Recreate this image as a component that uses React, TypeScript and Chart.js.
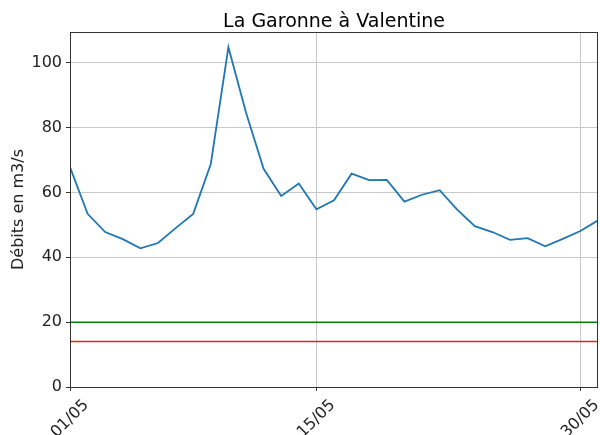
import React, { useEffect, useRef } from "react";
import { Chart, registerables } from "chart.js";

Chart.register(...registerables);

const title = "La Garonne à Valentine";
const yTitle = "Débits en m3/s";
const debits = [
  67.8, 53.4, 47.8, 45.6, 42.8, 44.4, 49.0, 53.4, 68.8, 104.8, 84.7, 67.3, 58.9, 62.8, 54.8,
  57.6, 65.8, 63.8, 63.9, 57.2, 59.3, 60.7, 54.7, 49.6, 47.8, 45.4, 45.9, 43.4, 45.7, 48.1, 51.4,
];
const xTickPositions = [0, 14, 29];
const xTickLabels = ["01/05", "15/05", "30/05"];
const yTicks = [0, 20, 40, 60, 80, 100];
const seuilVigilance = 20;
const seuilAlerte = 14;
const yMax = 109.5;

const FONT = "'DejaVu Sans', sans-serif";

export default function App() {
  const ref = useRef<HTMLCanvasElement | null>(null);
  useEffect(() => {
    document.body.style.margin = "0";
    const canvas = ref.current!;
    const lastX = debits.length - 1;
    const boxPlugin = {
      id: "boxAndLabels",
      afterDraw(chart: any) {
        const { ctx, chartArea } = chart;
        const xs = chart.scales.x;
        const L = Math.round(chartArea.left);
        const R = Math.round(chartArea.right);
        const T = Math.round(chartArea.top);
        const B = Math.round(chartArea.bottom);
        ctx.save();
        ctx.strokeStyle = "#333";
        ctx.lineWidth = 1;
        ctx.strokeRect(L + 0.5, T + 0.5, R - L - 1, B - T);
        // title centred over the plot area
        ctx.font = `19px ${FONT}`;
        ctx.fillStyle = "#000";
        ctx.textAlign = "center";
        ctx.textBaseline = "alphabetic";
        ctx.fillText(title, (chartArea.left + chartArea.right) / 2, 27);
        // rotated x tick labels
        ctx.font = `16px ${FONT}`;
        ctx.fillStyle = "#222";
        ctx.textAlign = "center";
        ctx.textBaseline = "middle";
        const s = Math.SQRT1_2;
        xTickPositions.forEach((v, i) => {
          const label = xTickLabels[i];
          const x = xs.getPixelForValue(v);
          const w = ctx.measureText(label).width;
          const fh = 18.5;
          const h = (w + fh) * s;
          const y0 = chartArea.bottom + 9;
          ctx.save();
          ctx.translate(x, y0 + h / 2);
          ctx.rotate(-Math.PI / 4);
          ctx.fillText(label, 0, 0);
          ctx.restore();
        });
        ctx.restore();
      },
    };
    const chart = new Chart(canvas, {
      type: "line",
      data: {
        datasets: [
          {
            data: debits.map((v, i) => ({ x: i, y: v })),
            borderColor: "#1f77b4",
            borderWidth: 1.8,
            pointRadius: 0,
            tension: 0,
          },
          {
            data: [
              { x: 0, y: seuilVigilance },
              { x: lastX, y: seuilVigilance },
            ],
            borderColor: "#008000",
            borderWidth: 1.5,
            pointRadius: 0,
          },
          {
            data: [
              { x: 0, y: seuilAlerte },
              { x: lastX, y: seuilAlerte },
            ],
            borderColor: "#e8201c",
            borderWidth: 1.5,
            pointRadius: 0,
          },
        ],
      },
      plugins: [boxPlugin],
      options: {
        responsive: false,
        animation: false,
        layout: { padding: { left: 0, right: 2, top: 32, bottom: 0 } },
        plugins: {
          legend: { display: false },
          tooltip: { enabled: false },
          title: { display: false },
        },
        scales: {
          x: {
            type: "linear",
            min: 0,
            max: lastX,
            afterBuildTicks: (scale: any) => {
              scale.ticks = xTickPositions.map((v) => ({ value: v }));
            },
            afterFit: (scale: any) => {
              scale.height = 48;
            },
            ticks: { display: false },
            grid: {
              color: "#c8c8c8",
              lineWidth: 1,
              drawTicks: true,
              tickLength: 4,
              tickColor: "#333",
            },
            border: { display: false },
          },
          y: {
            type: "linear",
            min: 0,
            max: yMax,
            afterBuildTicks: (scale: any) => {
              scale.ticks = yTicks.map((v) => ({ value: v }));
            },
            afterFit: (scale: any) => {
              scale.width = 70;
            },
            ticks: {
              color: "#222",
              font: { family: FONT, size: 16 },
              padding: 4,
            },
            grid: {
              color: "#c8c8c8",
              lineWidth: 1,
              drawTicks: true,
              tickLength: 4,
              tickColor: "#333",
            },
            border: { display: false },
            title: {
              display: true,
              text: yTitle,
              color: "#222",
              font: { family: FONT, size: 16 },
              padding: { top: 9, bottom: 0 },
            },
          },
        },
      },
    });
    return () => chart.destroy();
  }, []);
  return (
    <div style={{ width: 600, height: 435 }}>
      <canvas ref={ref} width={600} height={435} />
    </div>
  );
}
